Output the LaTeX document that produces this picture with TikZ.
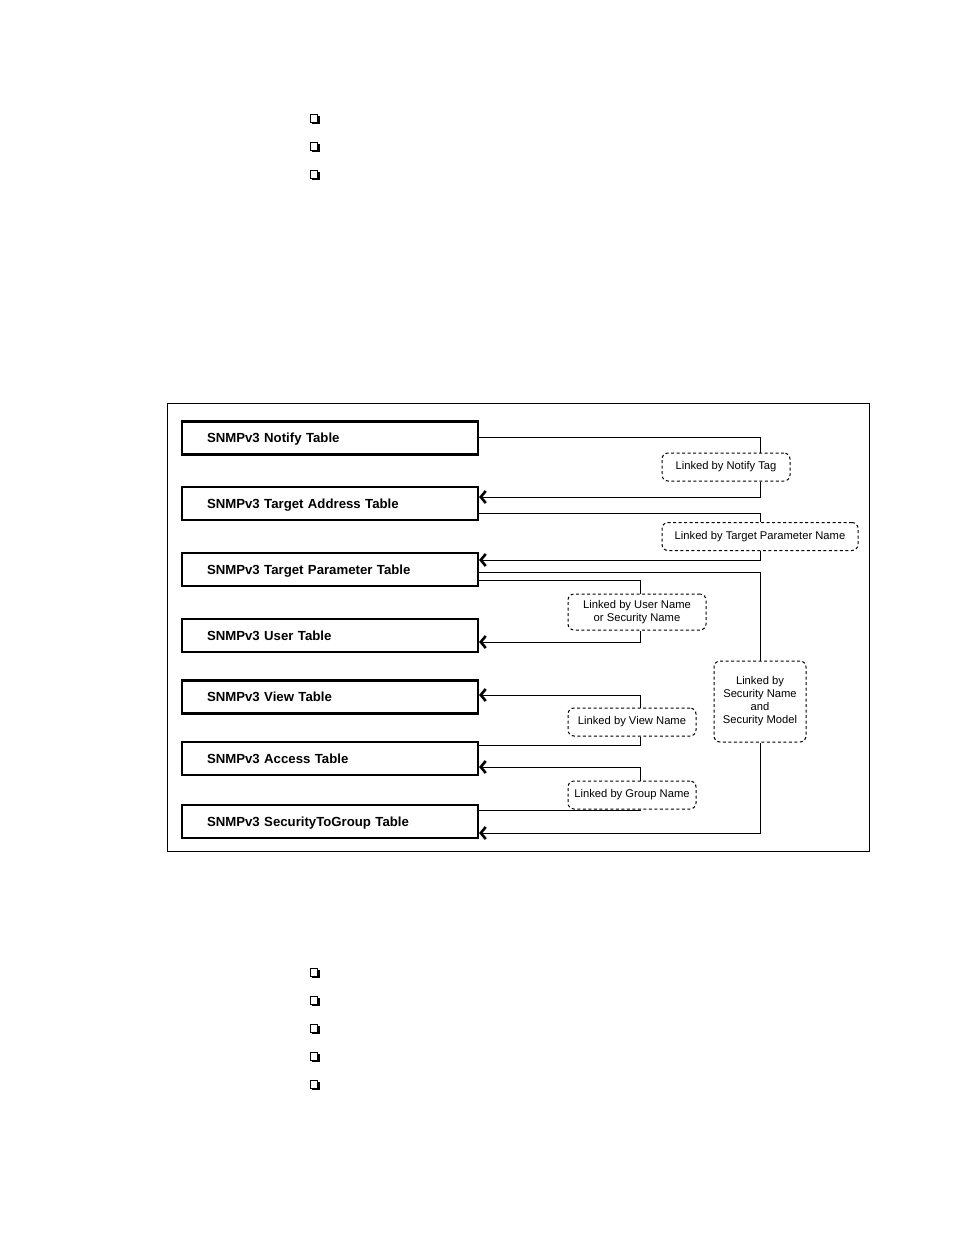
\documentclass[tikz,border=0pt]{standalone}
\usepackage{fontspec}
\setmainfont{Liberation Sans}
\usetikzlibrary{positioning}
\usetikzlibrary{arrows.meta}

\begin{document}
\begin{tikzpicture}[
x=1pt, y=-1pt,
tablenode/.style={rectangle, draw=black, line width=2.1pt, text width=246pt, inner xsep=25pt, inner ysep=0pt, minimum height=33pt, text height=9.4pt, text depth=0pt, align=left, font=\fontsize{13.2}{15}\selectfont\bfseries},
linknode/.style={rectangle, rounded corners=6pt, draw=black, fill=white, dash pattern=on 3pt off 2.5pt, line width=1pt, inner xsep=6pt, inner ysep=3pt, minimum height=28pt, align=center, font=\fontsize{11.2}{13}\selectfont},
linkarrow/.style={-{Straight Barb[length=5pt, width=12pt, line width=2.6pt]}},
]
\useasboundingbox (0,0) rectangle (954,1235);

% Page bullets above and below the figure
\foreach \by in {119,147,175,973,1001,1029,1057,1085} {
  \fill (311.5,\by-3.5) rectangle (319.5,\by+5);
  \draw[fill=white, line width=0.5pt] (310,\by-5) rectangle (317.5,\by+3.5);
}

% Figure frame
\draw[line width=0.8pt] (167,403) rectangle (869,851);

% Table nodes
\node[tablenode] (notifytable)   at (330,438)   {SNMPv3 Notify Table};
\node[tablenode] (targetaddr)    at (330,503.5) {SNMPv3 Target Address Table};
\node[tablenode] (targetparam)   at (330,569.5) {SNMPv3 Target Parameter Table};
\node[tablenode] (usertable)     at (330,635.5) {SNMPv3 User Table};
\node[tablenode] (viewtable)     at (330,697)   {SNMPv3 View Table};
\node[tablenode] (accesstable)   at (330,758.5) {SNMPv3 Access Table};
\node[tablenode] (secgrouptable) at (330,821.5) {SNMPv3 SecurityToGroup Table};

% Link nodes
\node[linknode, minimum width=128pt] (notifytag) at (726,467)   {Linked by Notify Tag};
\node[linknode, minimum width=196pt] (paramname) at (760,536.5) {Linked by Target Parameter Name};
\node[linknode, minimum width=138pt, minimum height=36pt] (username) at (637,612) {Linked by User Name\\or Security Name};
\node[linknode, minimum width=128pt] (viewname)  at (632,722)   {Linked by View Name};
\node[linknode, minimum width=128pt] (groupname) at (632,795)   {Linked by Group Name};
\node[linknode, minimum width=92pt, minimum height=81pt] (secmodel) at (760,701.5) {Linked by\\Security Name\\and\\Security Model};

\begin{scope}[line width=0.9pt]
% Notify tag
\draw ([yshift=1pt]notifytable.east) -| ([xshift=34pt]notifytag.north);
\draw[linkarrow] ([xshift=34pt]notifytag.south) |- ([yshift=6.5pt]targetaddr.east);

% Target parameter name
\draw ([yshift=-9.5pt]targetaddr.east) -| (paramname.north);
\draw[linkarrow] (paramname.south) |- ([yshift=9.5pt]targetparam.east);

% Security name and security model
\draw ([yshift=-2.5pt]targetparam.east) -| (secmodel.north);
\draw[linkarrow] (secmodel.south) |- ([yshift=-11.5pt]secgrouptable.east);

% User name
\draw ([yshift=-10.5pt]targetparam.east) -| ([xshift=3pt]username.north);
\draw[linkarrow] ([xshift=3pt]username.south) |- ([yshift=-6.5pt]usertable.east);

% View name
\draw ([yshift=13.5pt]accesstable.east) -| ([xshift=8pt]viewname.south);
\draw[linkarrow] ([xshift=8pt]viewname.north) |- ([yshift=2pt]viewtable.east);

% Group name
\draw ([yshift=11.5pt]secgrouptable.east) -| ([xshift=8pt]groupname.south);
\draw[linkarrow] ([xshift=8pt]groupname.north) |- ([yshift=-8.5pt]accesstable.east);
\end{scope}
\end{tikzpicture}
\end{document}
